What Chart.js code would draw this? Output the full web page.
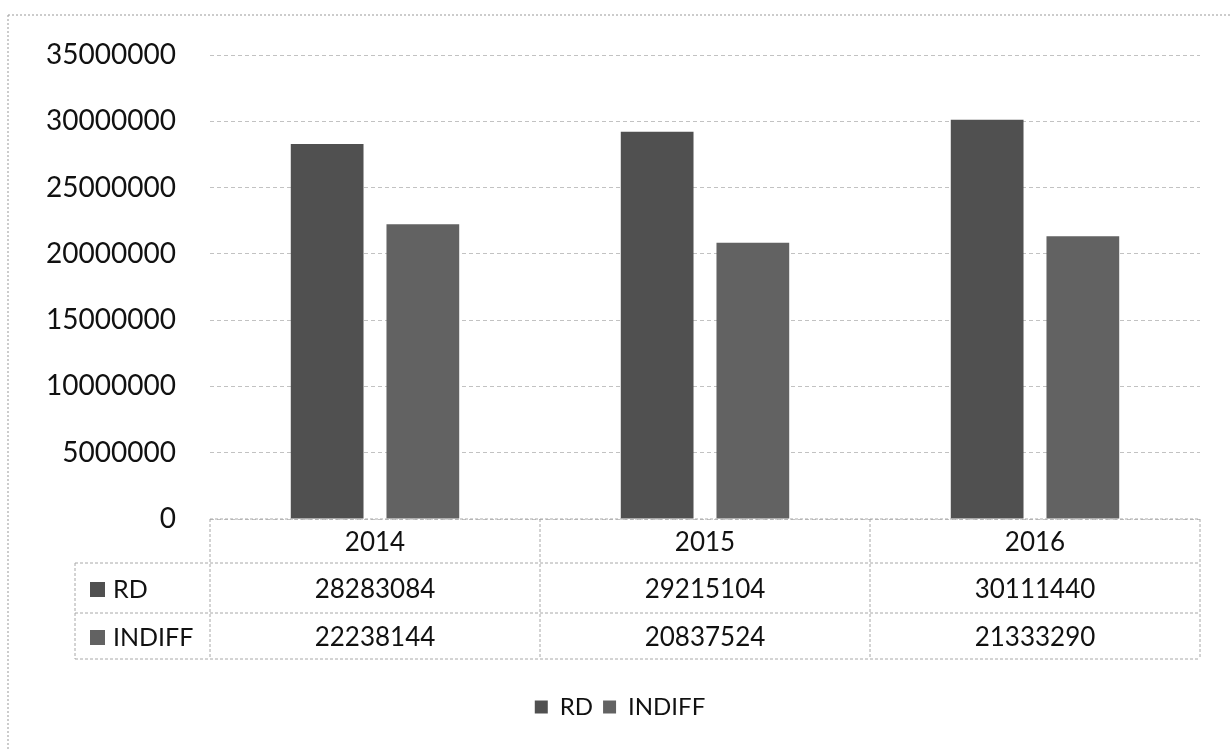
<!DOCTYPE html>
<html>
<head>
<meta charset="utf-8">
<script src="https://cdn.jsdelivr.net/npm/chart.js@4/dist/chart.umd.min.js"></script>
<style>
  html, body { margin: 0; padding: 0; background: #fff; }
  #wrap { width: 1231px; height: 749px; }
</style>
</head>
<body>
<div id="wrap"><canvas id="rdChart" width="1231" height="749"></canvas></div>
<script>
/// === DATA === ///
const years = ['2014', '2015', '2016'];
const rdValues = [28283084, 29215104, 30111440];
const indiffValues = [22238144, 20837524, 21333290];
const yTicks = [0, 5000000, 10000000, 15000000, 20000000, 25000000, 30000000, 35000000];

const rdColor = '#505050';
const indiffColor = '#626262';
const lineColor = '#a8a8a8';
const fontFamily = 'Lato, "Open Sans", sans-serif';

// data table under the plot (Excel style), drawn from the x scale
const dataTable = {
  id: 'dataTable',
  afterDraw: chart => {
    const { ctx } = chart;
    const x = chart.scales.x;
    const left = x.left;
    const right = x.right;
    const colW = (right - left) / years.length;
    const top = chart.chartArea.bottom;
    const rowA = top + 44;
    const rowB = rowA + 50;
    const bottom = rowB + 46;
    const labelLeft = 75;

    ctx.save();
    ctx.strokeStyle = lineColor;
    ctx.lineWidth = 1;
    ctx.setLineDash([3, 2]);
    const line = (x1, y1, x2, y2) => {
      ctx.beginPath();
      ctx.moveTo(x1, y1);
      ctx.lineTo(x2, y2);
      ctx.stroke();
    };
    line(left, top, right, top);
    line(labelLeft, rowA, right, rowA);
    line(labelLeft, rowB, right, rowB);
    line(labelLeft, bottom, right, bottom);
    line(labelLeft, rowA, labelLeft, bottom);
    for (let i = 0; i <= years.length; i++) {
      line(left + i * colW, top, left + i * colW, bottom);
    }
    ctx.setLineDash([]);

    ctx.fillStyle = '#111';
    ctx.font = '26px ' + fontFamily;
    ctx.textAlign = 'center';
    ctx.textBaseline = 'middle';
    years.forEach((yr, i) => {
      const cx = x.getPixelForValue(i);
      ctx.fillText(yr, cx, (top + rowA) / 2 + 2);
      ctx.fillText(String(rdValues[i]), cx, (rowA + rowB) / 2 + 2);
      ctx.fillText(String(indiffValues[i]), cx, (rowB + bottom) / 2 + 2);
    });

    // series names with their keys
    const rows = [
      { label: chart.data.datasets[0].label, color: rdColor, y: (rowA + rowB) / 2 + 2 },
      { label: chart.data.datasets[1].label, color: indiffColor, y: (rowB + bottom) / 2 + 2 }
    ];
    ctx.textAlign = 'left';
    ctx.font = '25px ' + fontFamily;
    rows.forEach(r => {
      ctx.fillStyle = r.color;
      ctx.fillRect(90, r.y - 8, 15, 15);
      ctx.fillStyle = '#111';
      ctx.fillText(r.label, 113, r.y);
    });

    // chart area border (only top and left show in the scan)
    ctx.strokeStyle = '#9a9a9a';
    ctx.setLineDash([2, 2]);
    line(8, 15, 1231, 15);
    line(8, 15, 8, 749);
    ctx.restore();
  }
};

const whiteBg = {
  id: 'whiteBg',
  beforeDraw: chart => {
    const { ctx } = chart;
    ctx.save();
    ctx.fillStyle = '#fff';
    ctx.fillRect(0, 0, chart.width, chart.height);
    ctx.restore();
  }
};

new Chart(document.getElementById('rdChart'), {
  type: 'bar',
  data: {
    labels: years,
    datasets: [
      {
        label: 'RD',
        data: rdValues,
        backgroundColor: rdColor,
        categoryPercentage: 0.58,
        barPercentage: 0.76
      },
      {
        label: 'INDIFF',
        data: indiffValues,
        backgroundColor: indiffColor,
        categoryPercentage: 0.58,
        barPercentage: 0.76
      }
    ]
  },
  options: {
    responsive: false,
    animation: false,
    layout: {
      padding: { top: 55, right: 31, left: 40, bottom: 20 }
    },
    plugins: {
      legend: {
        position: 'bottom',
        align: 'center',
        labels: {
          color: '#111',
          font: { family: fontFamily, size: 24 },
          boxWidth: 13,
          boxHeight: 13,
          padding: 10
        }
      },
      tooltip: { enabled: false }
    },
    scales: {
      x: {
        grid: { display: false },
        border: { display: false },
        ticks: { display: false },
        afterFit: scale => { scale.height = 166; }
      },
      y: {
        min: 0,
        max: 35000000,
        afterBuildTicks: scale => {
          scale.ticks = yTicks.map(v => ({ value: v }));
        },
        afterFit: scale => { scale.width = 170; },
        ticks: {
          color: '#111',
          padding: 34,
          font: { family: fontFamily, size: 28 },
          callback: value => String(value)
        },
        grid: {
          color: '#c2c2c2',
          drawTicks: false
        },
        border: { display: false, dash: [4, 3] }
      }
    }
  },
  plugins: [whiteBg, dataTable]
});
</script>
</body>
</html>
